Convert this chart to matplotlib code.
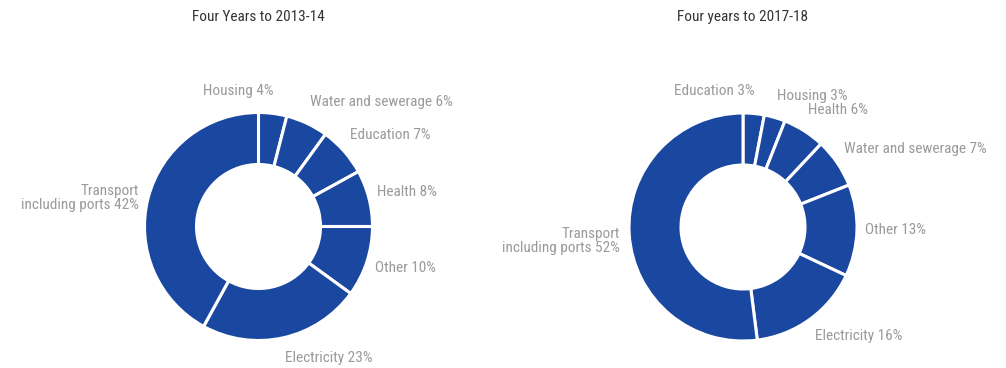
import matplotlib
matplotlib.use("Agg")
import matplotlib.pyplot as plt
from matplotlib import font_manager as fm

W, H = 1006, 368
DPI = 100

# ---- data ----
left_title = "Four Years to 2013-14"
left_labels = ["Housing 4%", "Water and sewerage 6%", "Education 7%", "Health 8%",
               "Other 10%", "Electricity 23%", "Transport\nincluding ports 42%"]
left_values = [4, 6, 7, 8, 10, 23, 42]

right_title = "Four years to 2017-18"
right_labels = ["Education 3%", "Housing 3%", "Health 6%", "Water and sewerage 7%",
                "Other 13%", "Electricity 16%", "Transport\nincluding ports 52%"]
right_values = [3, 3, 6, 7, 13, 16, 52]

# ---- style ----
avail = {f.name for f in fm.fontManager.ttflist}
fam = [f for f in ["Liberation Sans Narrow", "DejaVu Sans Condensed", "Roboto Condensed",
                   "Liberation Sans", "DejaVu Sans"] if f in avail]
plt.rcParams['font.family'] = fam

BLUE = "#1a48a0"
GREY = "#9a9a9a"
R_PX = 114
INNER_PX = 62

fig = plt.figure(figsize=(W / DPI, H / DPI), dpi=DPI)


def make_donut(cx, cy, title, values, labels, label_pos):
    side = 2 * R_PX
    ax = fig.add_axes([(cx - R_PX) / W, (H - cy - R_PX) / H, side / W, side / H])
    ax.pie(values, startangle=90, counterclock=False, radius=1.0,
           colors=[BLUE] * len(values),
           wedgeprops=dict(width=1 - INNER_PX / R_PX, edgecolor="white", linewidth=2.2))
    ax.set_xlim(-1, 1)
    ax.set_ylim(-1, 1)
    ax.set_aspect("equal")
    ax.axis("off")
    for lab, (px, py, ha) in zip(labels, label_pos):
        ax.text((px - cx) / R_PX, (cy - py) / R_PX, lab, ha=ha, va="center",
                color=GREY, fontsize=11, clip_on=False, linespacing=0.95,
                multialignment="right")
    fig.text(cx / W, 1 - 17 / H, title, ha="center", va="center",
             color="#333333", fontsize=11)
    return ax


left_pos = [(238, 91, "center"), (310, 102, "left"), (350, 135, "left"),
            (377, 192, "left"), (375, 268, "left"), (285, 358, "left"),
            (139, 198, "right")]
right_pos = [(674, 91, "left"), (777, 96, "left"), (808, 110, "left"),
             (844, 149, "left"), (865, 230, "left"), (815, 336, "left"),
             (620, 241, "right")]

make_donut(258.5, 226.5, left_title, left_values, left_labels, left_pos)
make_donut(743, 227, right_title, right_values, right_labels, right_pos)

fig.savefig("out.png", dpi=DPI, facecolor="white")
